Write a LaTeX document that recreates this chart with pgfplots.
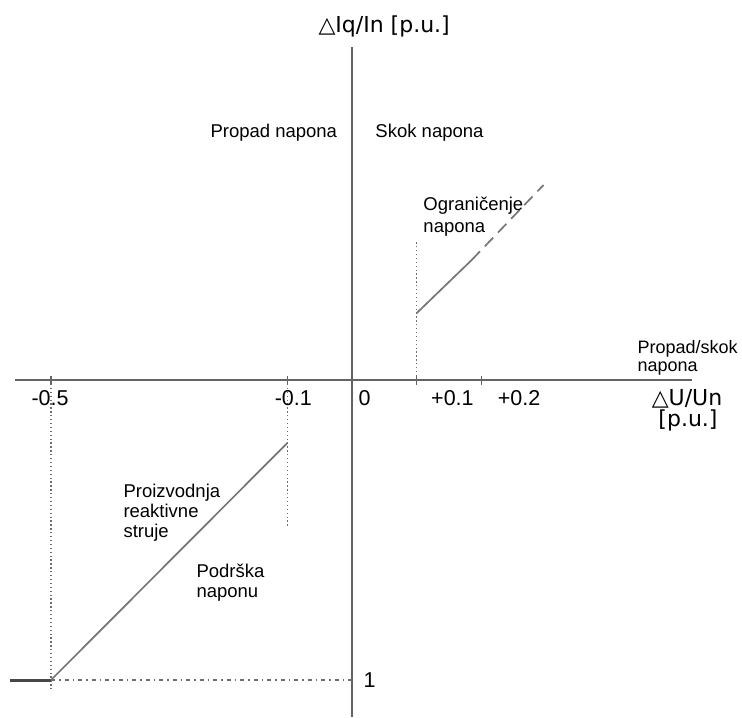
\documentclass[border=0pt]{standalone}
\usepackage{fontspec}
\setmainfont{Liberation Sans}
\newfontfamily\dejavu{DejaVu Sans}
\usepackage{pgfplots}
\pgfplotsset{compat=1.18}

\definecolor{axisgray}{HTML}{636363}
\definecolor{curvegray}{HTML}{767676}
\definecolor{dotgray}{HTML}{6E6E6E}
\definecolor{textgray}{HTML}{262626}

\newcommand{\lbl}{\fontsize{18.5bp}{21bp}\selectfont}
\newcommand{\tck}{\fontsize{21.5bp}{24bp}\selectfont}
\newcommand{\ttl}{\dejavu\fontsize{22bp}{25bp}\selectfont}

\begin{document}
\begin{tikzpicture}
\begin{axis}[
  width=742bp, height=717bp, scale only axis,
  hide axis, clip=false,
  % the deep-sag part of the voltage axis (below -0.1 p.u.) is drawn compressed
  x coord trafo/.code={\pgfmathparse{(#1) < -0.1 ? -0.1+((#1)+0.1)*0.913 : (#1)}},
  xmin=-0.5864, xmax=0.6028, ymin=-1.1233, ymax=1.2667,
  every node/.style={inner sep=0pt, text=textgray},
]
\coordinate (frameSW) at (rel axis cs:0,0);
\coordinate (frameNE) at (rel axis cs:1,1);
% axes
\addplot[axisgray, line width=2bp] coordinates {(-0.561,0) (0.5255,0)};
\addplot[axisgray, line width=2bp] coordinates {(0,1.11) (0,-1.1233)};
% tick marks
\addplot[axisgray, line width=1.4bp] coordinates {(-0.5,0.012) (-0.5,-0.018)};
\addplot[axisgray, line width=1.4bp] coordinates {(-0.1,0.012) (-0.1,-0.018)};
\addplot[axisgray, line width=1.4bp] coordinates {(0.1,0.012) (0.1,-0.018)};
\addplot[axisgray, line width=1.4bp] coordinates {(0.2,0.012) (0.2,-0.018)};

% guide lines
\addplot[dotgray, line width=1.4bp, dash pattern=on 1.3bp off 2.6bp] coordinates {(-0.5,0) (-0.5,-1.035)};
\addplot[dotgray, line width=1.4bp, dash pattern=on 1.3bp off 2.6bp] coordinates {(-0.1,0) (-0.1,-0.493)};
\addplot[dotgray, line width=1.4bp, dash pattern=on 1.3bp off 2.6bp] coordinates {(0.1,0) (0.1,0.46)};
\addplot[dotgray, line width=1.4bp, dash pattern=on 4bp off 4bp on 1.5bp off 4bp] coordinates {(-0.5,-1) (0,-1)};

% reactive current injection during voltage sag
\addplot[black!72, line width=3bp] coordinates {(-0.57,-1) (-0.5,-1)};
\addplot[curvegray, line width=1.7bp] coordinates {(-0.5,-1) (-0.1,-0.21)};

% reactive current absorption during voltage swell
\addplot[curvegray, line width=1.7bp] coordinates {(0.1,0.223) (0.185,0.40)};
\addplot[curvegray, line width=1.7bp, dash pattern=on 12bp off 7bp] coordinates {(0.185,0.40) (0.296,0.65)};

% tick labels
\node[anchor=base, xshift=-1bp] at (axis cs:-0.5,-0.0833) {\tck -0.5};
\node[anchor=base, xshift=6bp] at (axis cs:-0.1,-0.0833) {\tck -0.1};
\node[anchor=base west, xshift=3bp] at (axis cs:0,-0.0833) {\tck 0};
\node[anchor=base west, xshift=11bp] at (axis cs:0.1,-0.0833) {\tck +0.1};
\node[anchor=base west, xshift=13bp] at (axis cs:0.2,-0.0833) {\tck +0.2};
\node[anchor=base west, xshift=8bp] at (axis cs:0,-1.0233) {\tck 1};

% axis titles
\node[anchor=base west] at (rel axis cs:0.4245,0.9540) {\ttl △Iq/In [p.u.]};
\node[anchor=base] at (rel axis cs:0.9259,0.4338) {\ttl △U/Un};
\node[anchor=base] at (rel axis cs:0.9272,0.4045) {\ttl [p.u.]};

% region labels
\node[anchor=base west] at (rel axis cs:0.2790,0.8089) {\lbl Propad napona};
\node[anchor=base west] at (rel axis cs:0.5013,0.8089) {\lbl Skok napona};
\node[anchor=base west] at (rel axis cs:0.5660,0.7071) {\lbl Ograničenje};
\node[anchor=base west] at (rel axis cs:0.5660,0.6764) {\lbl napona};
\node[anchor=base west] at (rel axis cs:0.8545,0.5063) {\fontsize{18bp}{21bp}\selectfont Propad/skok};
\node[anchor=base west] at (rel axis cs:0.8545,0.4812) {\fontsize{18bp}{21bp}\selectfont napona};
\node[anchor=base west] at (rel axis cs:0.1617,0.3068) {\lbl Proizvodnja};
\node[anchor=base west] at (rel axis cs:0.1617,0.2789) {\lbl reaktivne};
\node[anchor=base west] at (rel axis cs:0.1617,0.2497) {\lbl struje};
\node[anchor=base west] at (rel axis cs:0.2601,0.1939) {\lbl Podrška};
\node[anchor=base west] at (rel axis cs:0.2601,0.1660) {\lbl naponu};
\end{axis}
\pgfresetboundingbox
\useasboundingbox (frameSW) rectangle (frameNE);
\end{tikzpicture}
\end{document}
